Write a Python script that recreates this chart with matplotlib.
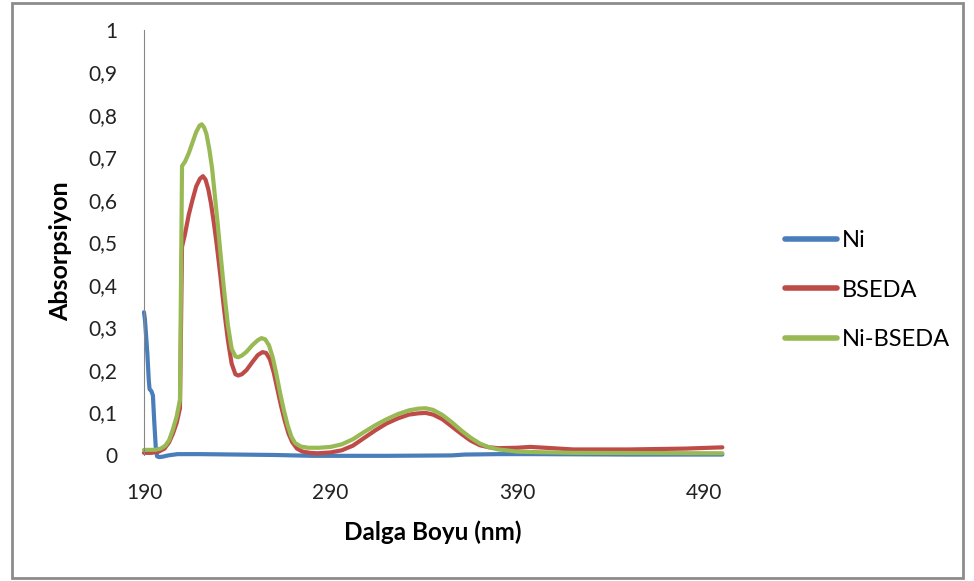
import matplotlib
matplotlib.use("Agg")
import matplotlib.pyplot as plt
from matplotlib.patches import Rectangle
from matplotlib.ticker import FuncFormatter

# Ni
ni_x = [190, 190.5, 191, 191.8, 192.6, 193, 194, 194.8, 195.5, 196.3, 197, 198, 200,
        203, 208, 220, 240, 260, 280, 320, 355, 362, 380, 400, 450, 500]
ni_y = [0.336, 0.32, 0.29, 0.24, 0.175, 0.155, 0.15, 0.14, 0.08, 0.02, -0.003, -0.005,
        -0.004, -0.001, 0.002, 0.002, 0.001, 0.0, -0.002, -0.002, -0.001, 0.001, 0.002,
        0.002, 0.001, 0.001]

# BSEDA
bs_x = [190, 194, 198, 201, 203.5, 205.5, 207.5, 209.3, 210.4, 212, 214, 216, 218, 220,
        221.6, 223, 224.5, 226, 227.5, 229, 231, 233, 235, 237, 239, 240.5, 242.5, 245,
        248, 251, 253.5, 255.5, 257.5, 259.5, 261.5, 263.5, 265.5, 267.5, 269.5, 272,
        275, 279, 283, 290, 296, 302, 308, 314, 320, 326, 332, 337, 341, 345, 350, 355,
        360, 365, 370, 375, 380, 390, 397, 405, 420, 450, 480, 500]
bs_y = [0.005, 0.005, 0.008, 0.015, 0.03, 0.05, 0.075, 0.11, 0.49, 0.52, 0.565, 0.60,
        0.632, 0.65, 0.656, 0.648, 0.625, 0.59, 0.545, 0.495, 0.42, 0.34, 0.27, 0.215,
        0.19, 0.187, 0.19, 0.20, 0.218, 0.235, 0.242, 0.24, 0.225, 0.195, 0.155, 0.115,
        0.08, 0.05, 0.03, 0.015, 0.008, 0.005, 0.004, 0.006, 0.011, 0.022, 0.04, 0.058,
        0.074, 0.086, 0.095, 0.098, 0.099, 0.095, 0.084, 0.067, 0.05, 0.034, 0.023,
        0.018, 0.016, 0.017, 0.019, 0.017, 0.013, 0.013, 0.015, 0.018]

# Ni-BSEDA
nb_x = [190, 196, 199, 201.5, 203.5, 205.5, 207.5, 209.3, 210.4, 212, 214, 216, 218,
        219.8, 221, 222.3, 223.5, 225, 226.5, 228, 229.5, 231, 233, 235, 237, 239, 240.5,
        242.5, 245, 248, 251, 253, 255, 257, 259, 261, 263, 265, 267, 269, 271, 274, 278,
        284, 290, 296, 302, 308, 314, 320, 326, 332, 337, 341, 345, 350, 355, 360, 365,
        370, 375, 380, 390, 397, 420, 500]
nb_y = [0.012, 0.012, 0.015, 0.022, 0.035, 0.06, 0.09, 0.13, 0.68, 0.69, 0.71, 0.735,
        0.76, 0.775, 0.778, 0.77, 0.755, 0.72, 0.675, 0.61, 0.545, 0.475, 0.385, 0.305,
        0.25, 0.232, 0.23, 0.234, 0.243, 0.258, 0.27, 0.275, 0.272, 0.258, 0.23, 0.19,
        0.145, 0.105, 0.07, 0.043, 0.028, 0.02, 0.017, 0.017, 0.019, 0.025, 0.037, 0.054,
        0.07, 0.084, 0.096, 0.105, 0.109, 0.11, 0.106, 0.094, 0.077, 0.058, 0.041, 0.027,
        0.018, 0.013, 0.008, 0.007, 0.005, 0.004]

series = ["Ni", "BSEDA", "Ni-BSEDA"]
colors = ["#4a7ebb", "#be4b48", "#98b954"]

plt.rcParams['font.family'] = ['Lato', 'DejaVu Sans']

fig = plt.figure(figsize=(9.74, 5.81), dpi=100)
ax = fig.add_axes([0.1478, 0.2169, 0.613, 0.7315])

for (x, y), name, c in zip([(ni_x, ni_y), (bs_x, bs_y), (nb_x, nb_y)], series, colors):
    ax.plot(x, y, color=c, lw=3.0, label=name, solid_joinstyle='round',
            solid_capstyle='round', clip_on=False)

ax.set_xlim(190, 510)
ax.set_ylim(0, 1)
ax.set_xticks([190, 290, 390, 490])
ax.set_yticks([i / 10 for i in range(11)])
ax.yaxis.set_major_formatter(FuncFormatter(
    lambda v, p: "0" if v == 0 else ("1" if v == 1 else f"{v:.1f}".replace(".", ","))))
ax.tick_params(length=0, labelsize=15, colors="#222222")
ax.tick_params(axis='y', pad=19)
ax.tick_params(axis='x', pad=20)

for s in ["top", "right"]:
    ax.spines[s].set_visible(False)
ax.spines["left"].set_color("#868686")
ax.spines["bottom"].set_visible(False)

ax.set_xlabel("Dalga Boyu (nm)", fontsize=17.5, fontweight="bold")
ax.set_ylabel("Absorpsiyon", fontsize=18, fontweight="bold")
ax.xaxis.set_label_coords(0.484, -0.153)
ax.yaxis.set_label_coords(-0.1206, 0.48)

leg = ax.legend(loc="center left", bbox_to_anchor=(1.074, 0.388), frameon=False,
                fontsize=17, handlelength=2.2, handletextpad=0.2, labelspacing=1.2,
                borderpad=0, borderaxespad=0)
for h in leg.get_lines():
    h.set_linewidth(4)

fig.patches.append(Rectangle((12 / 974, 3 / 581), 951 / 974, 575 / 581,
                             transform=fig.transFigure, fill=False,
                             edgecolor="#8c8c8c", lw=2))

fig.savefig("out.png", dpi=100)
